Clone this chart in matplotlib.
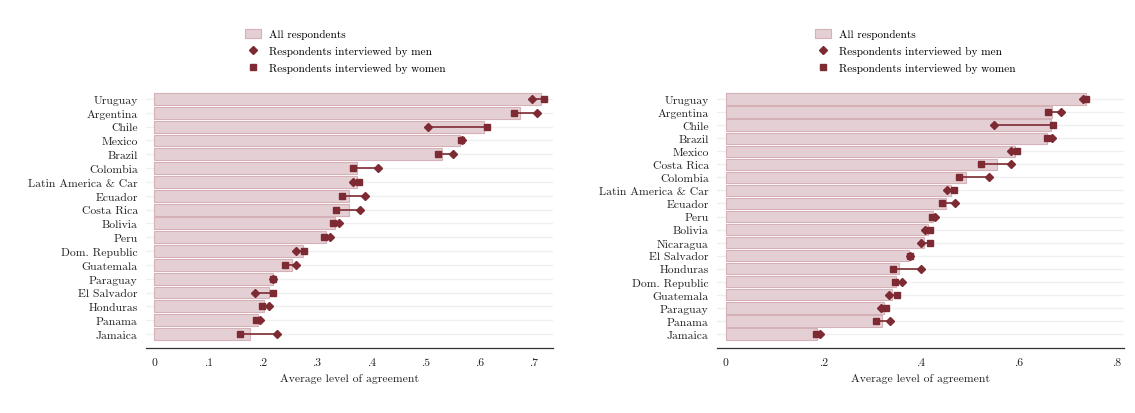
import numpy as np
import matplotlib
matplotlib.use('Agg')
import matplotlib.pyplot as plt
from matplotlib.patches import Patch
from matplotlib.lines import Line2D

plt.rcParams['font.family'] = ['cmr10', 'DejaVu Serif']
plt.rcParams['axes.formatter.use_mathtext'] = True

# left panel
left_countries = ['Uruguay', 'Argentina', 'Chile', 'Mexico', 'Brazil', 'Colombia',
                  'Latin America & Car', 'Ecuador', 'Costa Rica', 'Bolivia', 'Peru',
                  'Dom. Republic', 'Guatemala', 'Paraguay', 'El Salvador', 'Honduras',
                  'Panama', 'Jamaica']
left_all = [0.712, 0.674, 0.608, 0.564, 0.530, 0.374, 0.374, 0.360, 0.359, 0.333, 0.316,
            0.274, 0.254, 0.220, 0.211, 0.202, 0.191, 0.176]
left_men = [0.696, 0.705, 0.505, 0.567, 0.551, 0.413, 0.367, 0.389, 0.380, 0.341, 0.324,
            0.261, 0.262, 0.219, 0.186, 0.212, 0.195, 0.226]
left_women = [0.718, 0.663, 0.613, 0.565, 0.523, 0.366, 0.378, 0.347, 0.336, 0.329, 0.313,
              0.276, 0.241, 0.220, 0.220, 0.199, 0.188, 0.158]
left_ticks = [0, 0.1, 0.2, 0.3, 0.4, 0.5, 0.6, 0.7]
left_ticklabels = ['0', '.1', '.2', '.3', '.4', '.5', '.6', '.7']

# right panel
right_countries = ['Uruguay', 'Argentina', 'Chile', 'Brazil', 'Mexico', 'Costa Rica',
                   'Colombia', 'Latin America & Car', 'Ecuador', 'Peru', 'Bolivia',
                   'Nicaragua', 'El Salvador', 'Honduras', 'Dom. Republic', 'Guatemala',
                   'Paraguay', 'Panama', 'Jamaica']
right_all = [0.738, 0.668, 0.666, 0.659, 0.592, 0.555, 0.492, 0.462, 0.451, 0.424, 0.415,
             0.406, 0.376, 0.356, 0.349, 0.341, 0.325, 0.320, 0.188]
right_men = [0.733, 0.687, 0.550, 0.668, 0.584, 0.585, 0.540, 0.454, 0.469, 0.429, 0.409,
             0.400, 0.377, 0.400, 0.362, 0.335, 0.318, 0.337, 0.194]
right_women = [0.739, 0.661, 0.671, 0.658, 0.596, 0.523, 0.478, 0.467, 0.443, 0.423, 0.419,
               0.419, 0.378, 0.343, 0.347, 0.351, 0.329, 0.308, 0.186]
right_ticks = [0, 0.2, 0.4, 0.6, 0.8]
right_ticklabels = ['0', '.2', '.4', '.6', '.8']

bar_face = '#e4d0d4'
bar_edge = '#d6b0b7'
mark_col = '#7d2a33'

W, H = 1135, 414
ax_top, ax_bot = 86, 349      # axes box in pixels
row_top, row_bot = 100, 335   # first / last category in pixels


def draw_panel(ax, countries, all_vals, men, women, ticks, ticklabels, xlim, leg_x):
    n = len(countries)
    y = np.arange(n)[::-1]
    step = (row_bot - row_top) / (n - 1)
    for yy in y:
        ax.axhline(yy, color='#efefef', lw=0.9, zorder=0)
    ax.barh(y, all_vals, height=0.86, color=bar_face, edgecolor=bar_edge, lw=0.8, zorder=1)
    for i in range(n):
        ax.plot([men[i], women[i]], [y[i], y[i]], color=mark_col, lw=1.2, zorder=2)
    ax.plot(women, y, 's', color=mark_col, ms=4.3, zorder=3, lw=0)
    ax.plot(men, y, 'D', color=mark_col, ms=3.8, zorder=4, lw=0)
    ax.set_yticks(y)
    ax.set_yticklabels(countries, fontsize=8.4, color='#222222')
    ax.set_xticks(ticks)
    ax.set_xticklabels(ticklabels, fontsize=8.4, color='#222222')
    ax.tick_params(axis='both', length=0)
    ax.tick_params(axis='x', pad=7)
    ax.tick_params(axis='y', pad=6)
    ax.set_xlim(*xlim)
    ax.set_ylim(-(ax_bot - row_bot) / step, (n - 1) + (row_top - ax_top) / step)
    for s in ['top', 'right', 'left']:
        ax.spines[s].set_visible(False)
    ax.spines['bottom'].set_color('#333333')
    ax.spines['bottom'].set_linewidth(0.9)
    ax.set_xlabel('Average level of agreement', fontsize=8.4, color='#222222', labelpad=4)

    handles = [Patch(facecolor=bar_face, edgecolor=bar_edge, lw=0.8),
               Line2D([], [], marker='D', color=mark_col, ls='none', ms=3.8),
               Line2D([], [], marker='s', color=mark_col, ls='none', ms=4.3)]
    labels = ['All respondents', 'Respondents interviewed by men',
              'Respondents interviewed by women']
    ax.legend(handles, labels, loc='upper left', bbox_to_anchor=(leg_x / W, 1 - 25 / H),
              bbox_transform=fig.transFigure,
              frameon=False, fontsize=8.1, handlelength=1.45, handleheight=0.9,
              labelspacing=0.58, handletextpad=0.75, borderaxespad=0)


fig = plt.figure(figsize=(11.35, 4.14), dpi=100)
ax1 = fig.add_axes([146 / W, (H - ax_bot) / H, 407 / W, (ax_bot - ax_top) / H])
ax2 = fig.add_axes([717 / W, (H - ax_bot) / H, 407 / W, (ax_bot - ax_top) / H])

draw_panel(ax1, left_countries, left_all, left_men, left_women,
           left_ticks, left_ticklabels, (-0.0147, 0.735), 240)
draw_panel(ax2, right_countries, right_all, right_men, right_women,
           right_ticks, right_ticklabels, (-0.0178, 0.816), 810)

fig.savefig('out.png', dpi=100)
